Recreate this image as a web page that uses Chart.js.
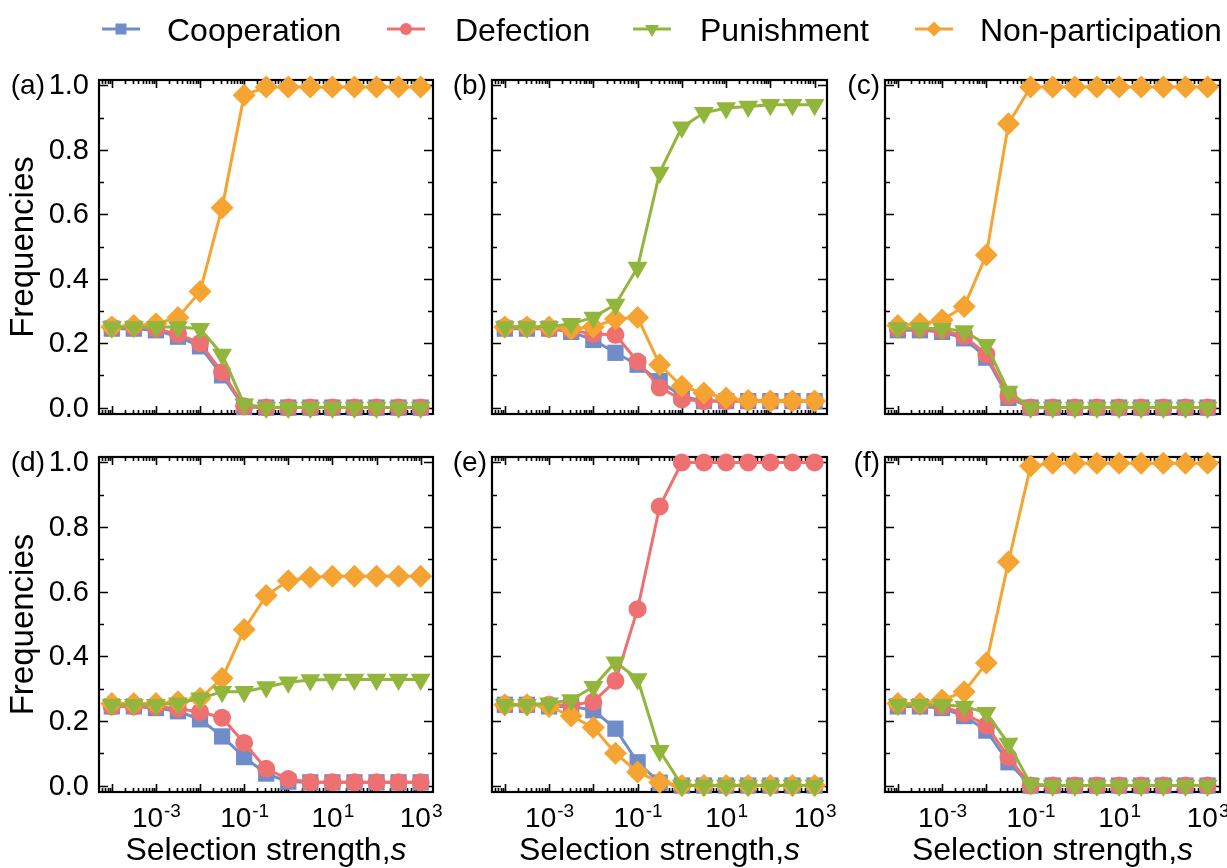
<!DOCTYPE html>
<html>
<head>
<meta charset="utf-8">
<script src="https://cdn.jsdelivr.net/npm/chart.js@4.4.1/dist/chart.umd.min.js"></script>
<style>
  body { margin: 0; background: #fff; width: 1227px; height: 868px; position: relative; overflow: hidden;
         font-family: "Liberation Sans", Arial, sans-serif; }
  canvas { position: absolute; }
  .leg { position: absolute; top: 14px; font-size: 32px; line-height: 32px; color: #000; white-space: nowrap; }
</style>
</head>
<body>
<canvas id="legendIcons" width="1227" height="60" style="left:0;top:0"></canvas>
<span class="leg" style="left:167px">Cooperation</span>
<span class="leg" style="left:455px">Defection</span>
<span class="leg" style="left:700px">Punishment</span>
<span class="leg" style="left:980px">Non-participation</span>

<script>
// x values: selection strength s, half-decade steps from 1e-4 to 1e3
const sValues = [1e-4, 3.16e-4, 1e-3, 3.16e-3, 1e-2, 3.16e-2, 0.1, 0.316, 1, 3.16, 10, 31.6, 100, 316, 1000];
const yTicks = [0, 0.2, 0.4, 0.6, 0.8, 1.0];
const yTickLabels = ['0.0', '0.2', '0.4', '0.6', '0.8', '1.0'];
const xTickValues = [1e-3, 1e-1, 1e1, 1e3];
const xTickExponents = ['-3', '-1', '1', '3'];
const seriesNames = ['Cooperation', 'Defection', 'Punishment', 'Non-participation'];
const seriesColors = ['#6F8DC8', '#EE7070', '#92B53C', '#F5A432'];
const panelLabels = ['(a)', '(b)', '(c)', '(d)', '(e)', '(f)'];

// (a)
const coopA = [0.245, 0.245, 0.24, 0.22, 0.19, 0.1, 0.002, 0, 0, 0, 0, 0, 0, 0, 0];
const defA = [0.25, 0.25, 0.245, 0.228, 0.2, 0.11, 0.004, 0, 0, 0, 0, 0, 0, 0, 0];
const punA = [0.25, 0.25, 0.25, 0.25, 0.245, 0.165, 0.01, 0, 0, 0, 0, 0, 0, 0, 0];
const nonA = [0.25, 0.255, 0.26, 0.28, 0.36, 0.62, 0.97, 0.995, 0.995, 0.995, 0.995, 0.995, 0.995, 0.995, 0.995];
// (b)
const coopB = [0.245, 0.245, 0.245, 0.235, 0.21, 0.17, 0.133, 0.082, 0.035, 0.02, 0.02, 0.02, 0.02, 0.02, 0.02];
const defB = [0.25, 0.25, 0.245, 0.24, 0.228, 0.226, 0.143, 0.062, 0.025, 0.02, 0.02, 0.02, 0.02, 0.02, 0.02];
const punB = [0.25, 0.25, 0.25, 0.26, 0.28, 0.32, 0.435, 0.73, 0.87, 0.915, 0.93, 0.935, 0.94, 0.94, 0.94];
const nonB = [0.25, 0.25, 0.25, 0.245, 0.25, 0.275, 0.28, 0.133, 0.066, 0.045, 0.03, 0.022, 0.02, 0.02, 0.02];
// (c)
const coopC = [0.24, 0.24, 0.235, 0.215, 0.155, 0.03, 0, 0, 0, 0, 0, 0, 0, 0, 0];
const defC = [0.245, 0.245, 0.24, 0.222, 0.165, 0.035, 0, 0, 0, 0, 0, 0, 0, 0, 0];
const punC = [0.247, 0.247, 0.245, 0.238, 0.195, 0.05, 0, 0, 0, 0, 0, 0, 0, 0, 0];
const nonC = [0.255, 0.26, 0.272, 0.314, 0.474, 0.881, 0.995, 0.995, 0.995, 0.995, 0.995, 0.995, 0.995, 0.995, 0.995];
// (d)
const coopD = [0.245, 0.245, 0.24, 0.23, 0.205, 0.152, 0.088, 0.037, 0.012, 0.01, 0.01, 0.01, 0.01, 0.01, 0.01];
const defD = [0.245, 0.245, 0.245, 0.238, 0.228, 0.21, 0.132, 0.052, 0.02, 0.01, 0.01, 0.01, 0.01, 0.01, 0.01];
const punD = [0.25, 0.25, 0.25, 0.255, 0.27, 0.29, 0.29, 0.305, 0.32, 0.327, 0.328, 0.328, 0.328, 0.328, 0.328];
const nonD = [0.254, 0.254, 0.254, 0.259, 0.27, 0.332, 0.483, 0.588, 0.634, 0.645, 0.648, 0.648, 0.648, 0.648, 0.648];
// (e)
const coopE = [0.25, 0.25, 0.245, 0.245, 0.233, 0.176, 0.072, 0.009, 0, 0, 0, 0, 0, 0, 0];
const defE = [0.25, 0.25, 0.25, 0.249, 0.259, 0.324, 0.546, 0.864, 1.0, 1.0, 1.0, 1.0, 1.0, 1.0, 1.0];
const punE = [0.25, 0.25, 0.255, 0.265, 0.306, 0.382, 0.33, 0.108, 0, 0, 0, 0, 0, 0, 0];
const nonE = [0.25, 0.25, 0.245, 0.215, 0.18, 0.1, 0.042, 0.01, 0, 0, 0, 0, 0, 0, 0];
// (f)
const coopF = [0.245, 0.245, 0.24, 0.215, 0.17, 0.072, 0, 0, 0, 0, 0, 0, 0, 0, 0];
const defF = [0.25, 0.25, 0.245, 0.223, 0.186, 0.088, 0, 0, 0, 0, 0, 0, 0, 0, 0];
const punF = [0.25, 0.25, 0.25, 0.245, 0.225, 0.13, 0.005, 0, 0, 0, 0, 0, 0, 0, 0];
const nonF = [0.254, 0.254, 0.265, 0.29, 0.379, 0.692, 0.989, 0.998, 0.998, 0.998, 0.998, 0.998, 0.998, 0.998, 0.998];

const panelSeries = [
  [coopA, defA, punA, nonA],
  [coopB, defB, punB, nonB],
  [coopC, defC, punC, nonC],
  [coopD, defD, punD, nonD],
  [coopE, defE, punE, nonE],
  [coopF, defF, punF, nonF]
];

const FONT = '"Liberation Sans", Arial, sans-serif';
const markerStyle = [
  { pointStyle: 'rect', radius: 11.5, rotation: 0 },
  { pointStyle: 'circle', radius: 9, rotation: 0 },
  { pointStyle: 'triangle', radius: 11.5, rotation: 180 },
  { pointStyle: 'rectRot', radius: 11.5, rotation: 0 }
];
const drawOrder = [4, 3, 1, 2]; // green on top, then orange, red, blue

// canvas geometry per column / row (left, width, padL, padR) and (top, height, padT, padB)
const cols = [[0, 460, 99, 27], [440, 410, 52, 23], [830, 397, 55, 7]];
const rows = [[60, 380, 20, 26], [440, 428, 17, 76]];

// frame, inward ticks and labels
const framePlugin = {
  id: 'frame',
  beforeDatasetsDraw(chart, args, opts) {
    const { ctx, chartArea: a, scales: { x, y } } = chart;
    ctx.save();
    ctx.strokeStyle = '#000';
    ctx.lineWidth = 1.6;
    ctx.beginPath();
    for (let d = -5; d <= 3; d++) {
      for (let m = 1; m <= 9; m++) {
        const v = m * Math.pow(10, d);
        if (v < x.min || v > x.max) continue;
        const px = Math.round(x.getPixelForValue(v)) + 0.5;
        const len = m === 1 ? 8 : 4;
        ctx.moveTo(px, a.bottom); ctx.lineTo(px, a.bottom - len);
        ctx.moveTo(px, a.top); ctx.lineTo(px, a.top + len);
      }
    }
    for (let i = 0; i <= 10; i++) {
      const v = i / 10;
      const py = Math.round(y.getPixelForValue(v)) + 0.5;
      const len = i % 2 === 0 ? 9 : 5;
      ctx.moveTo(a.left, py); ctx.lineTo(a.left + len, py);
      ctx.moveTo(a.right, py); ctx.lineTo(a.right - len, py);
    }
    ctx.stroke();
    ctx.lineWidth = 2.2;
    ctx.strokeRect(a.left, a.top, a.right - a.left, a.bottom - a.top);
    ctx.restore();
  },
  afterDraw(chart, args, opts) {
    const { ctx, chartArea: a, scales: { x, y } } = chart;
    ctx.save();
    ctx.fillStyle = '#000';
    // panel letter
    ctx.font = '28px ' + FONT;
    ctx.textAlign = 'right';
    ctx.textBaseline = 'middle';
    const lx = opts.showY ? a.left - 54 : a.left - 5;
    ctx.fillText(opts.letter, lx, y.getPixelForValue(1.0) + 1);
    if (opts.showY) {
      ctx.font = '29px ' + FONT;
      yTicks.forEach((v, i) => {
        ctx.fillText(yTickLabels[i], a.left - 10, y.getPixelForValue(v) + 1);
      });
      ctx.save();
      ctx.translate(a.left - 75, (a.top + a.bottom) / 2);
      ctx.rotate(-Math.PI / 2);
      ctx.textAlign = 'center';
      ctx.font = '33px ' + FONT;
      ctx.fillText('Frequencies', 0, 0);
      ctx.restore();
    }
    if (opts.showX) {
      ctx.textAlign = 'left';
      ctx.textBaseline = 'alphabetic';
      xTickValues.forEach((v, i) => {
        ctx.font = '28px ' + FONT;
        const w1 = ctx.measureText('10').width;
        ctx.font = '19px ' + FONT;
        const w2 = ctx.measureText(xTickExponents[i]).width;
        const start = x.getPixelForValue(v) - (w1 + w2) / 2;
        ctx.font = '28px ' + FONT;
        ctx.fillText('10', start, a.bottom + 35);
        ctx.font = '19px ' + FONT;
        ctx.fillText(xTickExponents[i], start + w1 + 1, a.bottom + 25);
      });
      const t1 = 'Selection strength,';
      ctx.font = '32px ' + FONT;
      const w1 = ctx.measureText(t1).width;
      ctx.font = 'italic 32px ' + FONT;
      const w2 = ctx.measureText('s').width;
      const sx = (a.left + a.right) / 2 - (w1 + w2) / 2;
      ctx.font = '32px ' + FONT;
      ctx.fillText(t1, sx, a.bottom + 68);
      ctx.font = 'italic 32px ' + FONT;
      ctx.fillText('s', sx + w1, a.bottom + 68);
    }
    ctx.restore();
  }
};

panelSeries.forEach((series, idx) => {
  const col = cols[idx % 3], row = rows[Math.floor(idx / 3)];
  const cv = document.createElement('canvas');
  cv.width = col[1]; cv.height = row[1];
  cv.style.left = col[0] + 'px'; cv.style.top = row[0] + 'px';
  document.body.appendChild(cv);
  const datasets = series.map((vals, k) => ({
    label: seriesNames[k],
    data: sValues.map((s, i) => ({ x: s, y: vals[i] })),
    borderColor: seriesColors[k],
    backgroundColor: seriesColors[k],
    borderWidth: 3,
    pointStyle: markerStyle[k].pointStyle,
    pointRadius: markerStyle[k].radius,
    pointRotation: markerStyle[k].rotation,
    pointBorderWidth: 0,
    tension: 0,
    clip: false,
    order: drawOrder[k]
  }));
  new Chart(cv, {
    type: 'line',
    data: { datasets },
    options: {
      responsive: false,
      animation: false,
      events: [],
      layout: { autoPadding: false, padding: { left: col[2], right: col[3], top: row[2], bottom: row[3] } },
      plugins: {
        legend: { display: false },
        tooltip: { enabled: false },
        frame: { letter: panelLabels[idx], showY: idx % 3 === 0, showX: idx >= 3 }
      },
      scales: {
        x: { type: 'logarithmic', display: false, min: 5.13e-5, max: 1905 },
        y: { type: 'linear', display: false, min: -0.02, max: 1.017 }
      }
    },
    plugins: [framePlugin]
  });
});

// legend icons: line segment with a small marker
(function () {
  const ctx = document.getElementById('legendIcons').getContext('2d');
  const starts = [102, 387, 633, 915];
  const cy = 29;
  starts.forEach((x0, k) => {
    const c = seriesColors[k];
    ctx.strokeStyle = c; ctx.fillStyle = c; ctx.lineWidth = 3;
    ctx.beginPath(); ctx.moveTo(x0, cy); ctx.lineTo(x0 + 38, cy); ctx.stroke();
    const mx = x0 + 19;
    ctx.beginPath();
    if (k === 0) ctx.rect(mx - 5.5, cy - 5.5, 11, 11);
    else if (k === 1) ctx.arc(mx, cy, 6, 0, Math.PI * 2);
    else if (k === 2) { ctx.moveTo(mx - 7, cy - 4); ctx.lineTo(mx + 7, cy - 4); ctx.lineTo(mx, cy + 8); ctx.closePath(); }
    else { ctx.moveTo(mx, cy - 7.5); ctx.lineTo(mx + 7.5, cy); ctx.lineTo(mx, cy + 7.5); ctx.lineTo(mx - 7.5, cy); ctx.closePath(); }
    ctx.fill();
  });
})();
</script>
</body>
</html>
